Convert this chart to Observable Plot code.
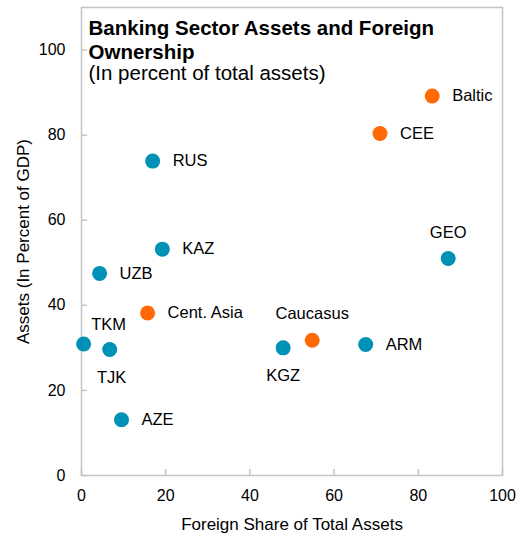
<!DOCTYPE html>
<html>
<head>
<meta charset="utf-8">
<script src="https://cdn.jsdelivr.net/npm/d3@7"></script>
<script src="https://cdn.jsdelivr.net/npm/@observablehq/plot@0.6"></script>
<style>
  html, body { margin: 0; padding: 0; background: #fff; }
  #chart svg { display: block; }
</style>
</head>
<body>
<div id="chart"></div>
<script>
// Data
const names   = ["Baltic", "CEE", "RUS", "GEO", "KAZ", "UZB", "Cent. Asia", "Caucasus", "ARM", "KGZ", "TKM", "TJK", "AZE"];
const foreign = [83.3, 70.9, 16.9, 87.1, 19.2, 4.3, 15.7, 54.8, 67.5, 47.9, 0.5, 6.7, 9.5];
const assets  = [89.2, 80.4, 73.9, 51.0, 53.2, 47.5, 38.2, 31.8, 30.8, 30.0, 30.9, 29.6, 13.1];
const groups  = ["region", "region", "country", "country", "country", "country", "region", "region", "country", "country", "country", "country", "country"];
const xTicks = [0, 20, 40, 60, 80, 100];
const yTicks = [0, 20, 40, 60, 80, 100];
const labelsAbove = ["GEO", "Caucasus"];
const labelsBelow = ["KGZ"];
const labelAboveRight = ["TKM"];
const labelBelowShift = ["TJK"];

const title = "Banking Sector Assets and Foreign\nOwnership";
const subtitle = "(In percent of total assets)";
const xLabel = "Foreign Share of Total Assets";
const yLabel = "Assets (In Percent of GDP)";

const data = names.map((n, i) => ({name: n, x: foreign[i], y: assets[i], group: groups[i]}));
const special = new Set([...labelsAbove, ...labelsBelow, ...labelAboveRight, ...labelBelowShift]);

const FONT = "Liberation Sans, Arial, sans-serif";

const chart = Plot.plot({
  width: 521,
  height: 535,
  marginLeft: 81,
  marginRight: 19,
  marginTop: 7,
  marginBottom: 60,
  style: {fontFamily: FONT, fontSize: "16px", color: "#000", background: "#fff"},
  x: {domain: [0, 100]},
  y: {domain: [0, 110]},
  color: {domain: ["country", "region"], range: ["#0092B6", "#FF6A06"]},
  marks: [
    Plot.frame({stroke: "#c4c4c4", strokeWidth: 1.5}),
    Plot.axisX({ticks: xTicks, tickSize: -6, tickPadding: 20, stroke: "#c4c4c4", strokeWidth: 1.5,
      fontSize: 16, label: null}),
    Plot.axisX({ticks: [], label: xLabel, labelAnchor: "center", labelOffset: 54, labelArrow: "none", fontSize: 17}),
    Plot.axisY({ticks: yTicks, tickSize: -6, tickPadding: 22, stroke: "#c4c4c4", strokeWidth: 1.5,
      fontSize: 16, label: null}),
    Plot.axisY({ticks: [], label: yLabel, labelAnchor: "center", labelOffset: 65, labelArrow: "none", fontSize: 17}),
    Plot.dot(data, {x: "x", y: "y", r: 7.5, fill: "group", stroke: null}),
    Plot.text(data.filter(d => !special.has(d.name)), {x: "x", y: "y", text: "name", dx: 20, textAnchor: "start", fontSize: 16.5, fill: "#000"}),
    Plot.text(data.filter(d => labelsAbove.includes(d.name)), {x: "x", y: "y", text: "name", dy: -26, fontSize: 16.5, fill: "#000"}),
    Plot.text(data.filter(d => labelsBelow.includes(d.name)), {x: "x", y: "y", text: "name", dy: 28, fontSize: 16.5, fill: "#000"}),
    Plot.text(data.filter(d => labelAboveRight.includes(d.name)), {x: "x", y: "y", text: "name", dx: 25, dy: -19, fontSize: 16.5, fill: "#000"}),
    Plot.text(data.filter(d => labelBelowShift.includes(d.name)), {x: "x", y: "y", text: "name", dx: 2, dy: 28, fontSize: 16.5, fill: "#000"}),
    Plot.text([title], {frameAnchor: "top-left", text: d => d, dx: 7, dy: 11, textAnchor: "start", lineAnchor: "top",
      fontSize: 20.5, fontWeight: "bold", lineHeight: 1.146, fill: "#000"}),
    Plot.text([subtitle], {frameAnchor: "top-left", text: d => d, dx: 7, dy: 58, textAnchor: "start", lineAnchor: "top",
      fontSize: 20.5, fill: "#000"})
  ]
});
document.getElementById("chart").appendChild(chart);
</script>
</body>
</html>
